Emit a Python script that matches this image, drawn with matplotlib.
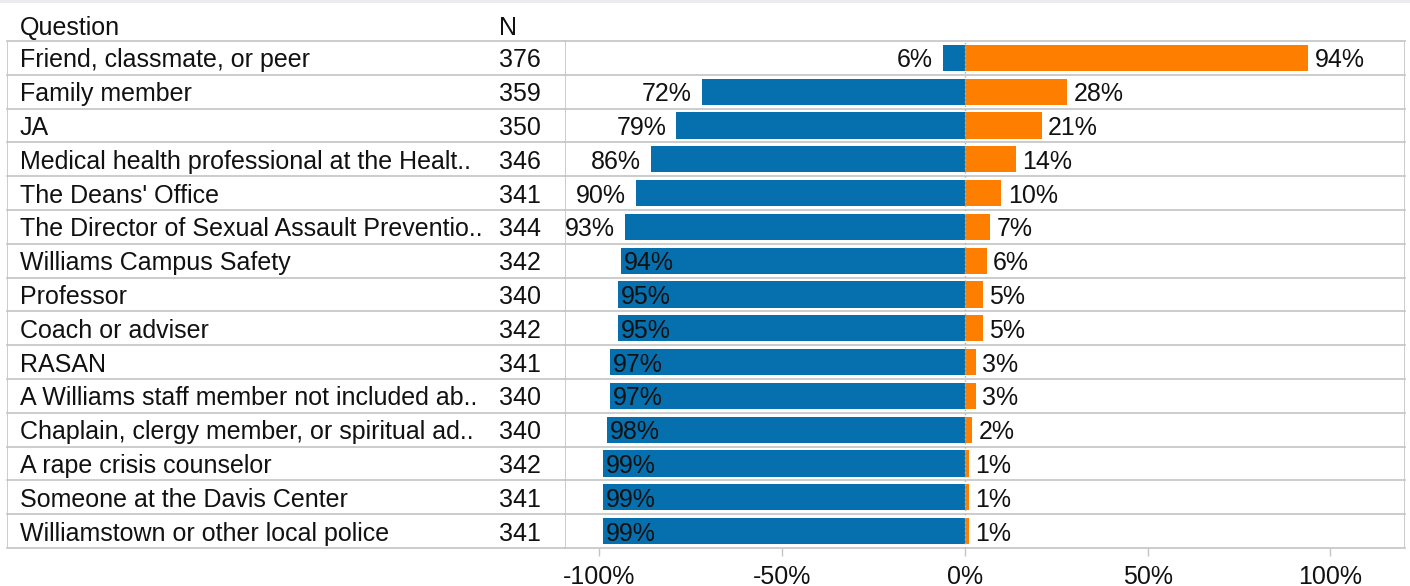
import matplotlib
matplotlib.use("Agg")
import matplotlib.pyplot as plt
from matplotlib.patches import Rectangle

plt.rcParams['font.family'] = ['Liberation Sans', 'DejaVu Sans']

questions = [
    "Friend, classmate, or peer",
    "Family member",
    "JA",
    "Medical health professional at the Healt..",
    "The Deans' Office",
    "The Director of Sexual Assault Preventio..",
    "Williams Campus Safety",
    "Professor",
    "Coach or adviser",
    "RASAN",
    "A Williams staff member not included ab..",
    "Chaplain, clergy member, or spiritual ad..",
    "A rape crisis counselor",
    "Someone at the Davis Center",
    "Williamstown or other local police",
]
n_values = [376, 359, 350, 346, 341, 344, 342, 340, 342, 341, 340, 340, 342, 341, 341]
no_pct = [6, 72, 79, 86, 90, 93, 94, 95, 95, 97, 97, 98, 99, 99, 99]
yes_pct = [94, 28, 21, 14, 10, 7, 6, 5, 5, 3, 3, 2, 1, 1, 1]
tick_vals = [-100, -50, 0, 50, 100]
tick_labels = ["-100%", "-50%", "0%", "50%", "100%"]

W, H = 1410, 586
fig = plt.figure(figsize=(W / 100, H / 100), dpi=100)

def fx(px):
    return px / W

def fy(py):
    return 1 - py / H

BLUE = '#066fae'
ORANGE = '#fe7f00'
GRID = '#c4c4c4'
TXT = '#111111'
FS = 18
VA = 'center_baseline'

top_px, bot_px = 41, 548
tab_l, tab_r, plot_r = 7, 565, 1405

ax_t = fig.add_axes([fx(tab_l), fy(bot_px), fx(tab_r - tab_l), fy(top_px) - fy(bot_px)])
ax = fig.add_axes([fx(tab_r), fy(bot_px), fx(plot_r - tab_r), fy(top_px) - fy(bot_px)])

nrows = len(questions)
xmin, xmax = -1.094, 1.204
for a in (ax_t, ax):
    a.set_ylim(nrows - 0.5, -0.5)
    for s in a.spines.values():
        s.set_visible(False)
    a.set_yticks([])
ax_t.set_xlim(0, 1)
ax_t.set_xticks([])
ax.set_xlim(xmin, xmax)

# top light band
fig.patches.append(Rectangle((0, fy(3)), 1, fy(0) - fy(3), transform=fig.transFigure,
                             facecolor='#ebebf0', edgecolor='none'))

# row lines
for i in range(nrows + 1):
    yb = i - 0.5
    ax_t.axhline(yb, color=GRID, lw=1.2, clip_on=False)
    ax.axhline(yb, color=GRID, lw=1.2, clip_on=False)

# vertical borders
ax_t.axvline(0, color=GRID, lw=1.2)
ax.axvline(xmin, color=GRID, lw=1.2)
ax.axvline(xmax, color=GRID, lw=1.2)
ax.axvline(0, color='#b0b0b0', lw=1.0, ls=(0, (1, 2)), zorder=3)

# table text
tx_q = (20 - tab_l) / (tab_r - tab_l)
tx_n = (499 - tab_l) / (tab_r - tab_l)
for i, (q, n) in enumerate(zip(questions, n_values)):
    ax_t.text(tx_q, i, q, ha='left', va=VA, fontsize=FS, color=TXT)
    ax_t.text(tx_n, i, str(n), ha='left', va=VA, fontsize=FS, color=TXT)
ax_t.text(tx_q, -0.95, "Question", ha='left', va=VA, fontsize=FS, color=TXT, clip_on=False)
ax_t.text(tx_n, -0.95, "N", ha='left', va=VA, fontsize=FS, color=TXT, clip_on=False)

# bars
ys = list(range(nrows))
neg = [-v / 100 for v in no_pct]
pos = [v / 100 for v in yes_pct]
ax.barh(ys, neg, height=0.77, color=BLUE, zorder=2)
ax.barh(ys, pos, height=0.77, color=ORANGE, zorder=2)

label_w = 0.16
for i in ys:
    v = no_pct[i]
    x = -v / 100
    if x - label_w >= xmin:
        ax.annotate(f"{v}%", xy=(x, i), xytext=(-7, 0), textcoords='offset points',
                    ha='right', va=VA, fontsize=FS, color=TXT, zorder=4,
                    annotation_clip=False)
    else:
        ax.annotate(f"{v}%", xy=(x, i), xytext=(2, 0), textcoords='offset points',
                    ha='left', va=VA, fontsize=FS, color=TXT, zorder=4)
    w = yes_pct[i]
    ax.annotate(f"{w}%", xy=(w / 100, i), xytext=(4.5, 0), textcoords='offset points',
                ha='left', va=VA, fontsize=FS, color=TXT, zorder=4)

# x ticks
ax.set_xticks([t / 100 for t in tick_vals])
ax.set_xticklabels(tick_labels, fontsize=FS, color=TXT)
ax.tick_params(axis='x', length=6, width=1, color='#c4c4c4', pad=6)

fig.savefig('out.png', dpi=100)
